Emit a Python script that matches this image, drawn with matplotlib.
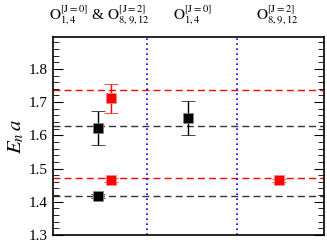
import numpy as np
import matplotlib
matplotlib.use("Agg")
import matplotlib.pyplot as plt
from matplotlib.ticker import MultipleLocator

plt.rcParams['font.family'] = ['Liberation Serif', 'DejaVu Serif']
plt.rcParams['mathtext.fontset'] = 'stix'

# operator-set results (x positions of the groups, energies and errors)
black_x = [0.45, 1.45, 0.45]
black_y = [1.417, 1.651, 1.622]
black_err = [0.005, 0.051, 0.051]

red_x = [0.60, 2.47, 0.60]
red_y = [1.466, 1.465, 1.711]
red_err = [0.005, 0.005, 0.043]

black_lines = [1.417, 1.629]
red_lines = [1.471, 1.737]
dividers = [1.0, 2.0]

headers = [r'$\mathrm{O}_{1,4}^{\mathrm{[J=0]}}$ & $\mathrm{O}_{8,9,12}^{\mathrm{[J=2]}}$',
           r'$\mathrm{O}_{1,4}^{\mathrm{[J=0]}}$',
           r'$\mathrm{O}_{8,9,12}^{\mathrm{[J=2]}}$']
header_x = [0.47, 1.51, 2.45]

fig = plt.figure(figsize=(3.27, 2.42), dpi=100)
ax = fig.add_axes([53/327, 7/242, 271/327, 198/242])

for yv in black_lines:
    ax.axhline(yv, color='#333333', ls=(0, (5, 3)), lw=1.0, zorder=1)
for yv in red_lines:
    ax.axhline(yv, color='red', ls=(0, (5, 3)), lw=1.0, zorder=1)
for xv in dividers:
    ax.axvline(xv, color='blue', ls=(0, (1, 2)), lw=1.2, zorder=1)

ax.errorbar(black_x, black_y, yerr=black_err, fmt='s', color='black', ms=7,
            mec='#888888', mew=0.5, ecolor='black', elinewidth=1, capsize=5, zorder=3)
ax.errorbar(red_x, red_y, yerr=red_err, fmt='s', color='red', ms=7,
            mec='#ff8888', mew=0.5, ecolor='red', elinewidth=1, capsize=5, zorder=3)

ax.set_xlim(-0.05, 2.97)
ax.set_ylim(1.3, 1.896)
ax.set_xticks([])
ax.yaxis.set_major_locator(MultipleLocator(0.1))
ax.yaxis.set_minor_locator(MultipleLocator(0.02))
ax.tick_params(axis='y', which='both', direction='in', right=True, labelsize=11)
ax.tick_params(axis='y', which='major', length=7)
ax.tick_params(axis='y', which='minor', length=4)
for s in ax.spines.values():
    s.set_linewidth(1.2)
ax.set_ylabel(r'$E_n\,a$', fontsize=15, labelpad=2)

for hx, ht in zip(header_x, headers):
    ax.text(hx, 1.925, ht, ha='center', va='bottom', fontsize=11)

fig.savefig('out.png', dpi=100)
